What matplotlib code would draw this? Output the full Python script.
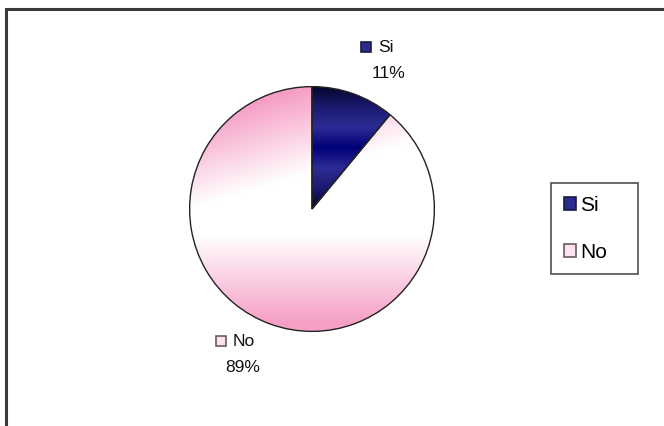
import matplotlib.pyplot as plt
import matplotlib.patches as mpatches
from matplotlib.colors import LinearSegmentedColormap, to_rgb
import numpy as np

plt.rcParams['font.family'] = ['Liberation Sans', 'DejaVu Sans']

labels = ['Si', 'No']
values = [11, 89]
key_colors = ['#2b2b8c', '#fde2ef']
key_edges = ['#1a1a40', '#6a5a62']

W, H = 664, 426
fig = plt.figure(figsize=(W / 100, H / 100), dpi=100)

# outer frame (only top and left edges visible in the reference)
fig.patches.append(mpatches.Rectangle((6 / W, -0.1), 1.2, (H - 9) / H + 0.1,
                                      transform=fig.transFigure, fill=False,
                                      edgecolor='#3a3a3a', linewidth=2.2))

# pie axes: centre (312, 209) px from top, radius 123 px
cx, cy, r = 312, H - 209, 123
ax = fig.add_axes([(cx - r) / W, (cy - r) / H, 2 * r / W, 2 * r / H])

wedges, _ = ax.pie(values, startangle=90, counterclock=False, radius=1,
                   colors=['none', 'none'],
                   wedgeprops=dict(edgecolor='none', linewidth=0))
ax.axis('off')

# gradient fills clipped by the wedges
navy = LinearSegmentedColormap.from_list(
    'navy', ['#05052a', '#1a1a70', '#2c2c95', '#00007a', '#2c2c95', '#1a1a70', '#05052a'])
grad = np.linspace(0, 1, 256).reshape(-1, 1)

# pink -> white -> pink, white spreading further on the upper right
n = 300
xs, ys = np.meshgrid(np.linspace(-1, 1, n), np.linspace(1, -1, n))
top = np.clip((ys - 0.3 * xs - 0.3) / 0.7, 0, 1)
bot = np.clip((-ys - 0.22) / 0.72, 0, 1)
p = np.where(ys > 0, top, bot)[..., None]
pink_rgb = np.array(to_rgb('#f69fc6'))
img = 1 - p * (1 - pink_rgb)

w_si, w_no = wedges
im_no = ax.imshow(img, aspect='auto', extent=(-1, 1, -1, 1),
                  interpolation='bilinear', zorder=1)
im_no.set_clip_path(w_no)
im_si = ax.imshow(grad, cmap=navy, aspect='auto', extent=(0, 1, 0, 1),
                  interpolation='bilinear', zorder=1)
im_si.set_clip_path(w_si)
ax.set_xlim(-1.005, 1.005)
ax.set_ylim(-1.005, 1.005)

for w in wedges:
    ax.add_patch(mpatches.Wedge(w.center, w.r, w.theta1, w.theta2, fill=False,
                                edgecolor='#222222', linewidth=1.0, zorder=2))

# data labels with legend keys
total = sum(values)
label_pos = [(386, 47), (241, 341)]
for lab, v, (lx, ly), fc, ec in zip(labels, values, label_pos, key_colors, key_edges):
    fig.patches.append(mpatches.Rectangle(((lx - 25) / W, (H - ly - 5) / H), 10 / W, 10 / H,
                                          transform=fig.transFigure, facecolor=fc,
                                          edgecolor=ec, linewidth=1.2))
    fig.text((lx - 8) / W, (H - ly) / H, lab, fontsize=12.5, ha='left', va='center',
             color='#111111')
    fig.text((lx + 2) / W, (H - ly - 26) / H, f'{round(100 * v / total)}%', fontsize=12.5,
             ha='center', va='center', color='#111111')

# legend
handles = [mpatches.Patch(facecolor=c, edgecolor=e, linewidth=1.2)
           for c, e in zip(key_colors, key_edges)]
leg = fig.legend(handles, labels, loc='upper left', mode='expand',
                 bbox_to_anchor=(551 / W, (H - 276) / H, 87 / W, 93 / H), fontsize=15,
                 frameon=True, fancybox=False, edgecolor='#222222',
                 handlelength=0.6, handleheight=0.6, handletextpad=0.2,
                 labelspacing=1.35, borderpad=0.6, borderaxespad=0)
leg.get_frame().set_linewidth(1.2)

fig.savefig('out.png', dpi=100)
